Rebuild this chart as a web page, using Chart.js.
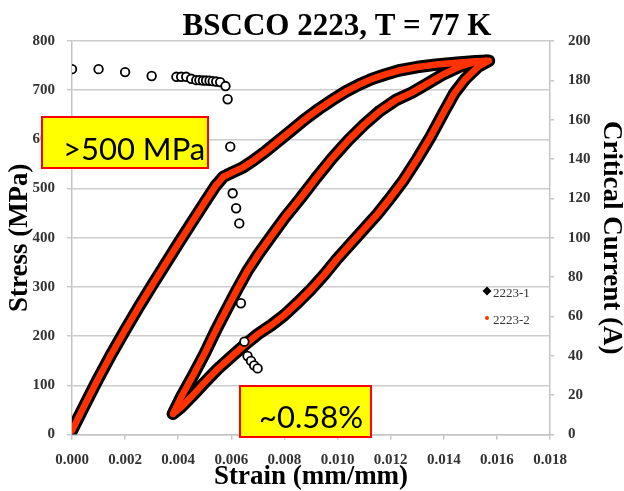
<!DOCTYPE html>
<html lang="en">
<head>
    <meta charset="UTF-8">
    <title>BSCCO 2223, T = 77 K</title>
    <script src="https://cdn.jsdelivr.net/npm/chart.js"></script>
    <style>
        body {
            margin: 0;
            padding: 0;
            background: #fff;
        }
        #wrap {
            width: 624px;
            height: 491px;
        }
    </style>
</head>
<body>
    <div id="wrap">
        <canvas id="stressChart" width="624" height="491"></canvas>
    </div>

    <script>
        const chartTitle = 'BSCCO 2223, T = 77 K';
        const seriesNames = ['2223-1', '2223-2'];
        const xTitle = 'Strain (mm/mm)';
        const yTitle = 'Stress (MPa)';
        const y1Title = 'Critical Current (A)';
        const notes = ['>500 MPa', '~0.58%'];

        // first loading up to the top of the cycle
        const loadStrain = [0.0000, 0.0005, 0.0010, 0.0015, 0.0020, 0.0025, 0.0030, 0.0035, 0.0040, 0.0045,
            0.0050, 0.0054, 0.0057, 0.0060, 0.0064, 0.0068, 0.0073, 0.0078, 0.0083, 0.0088, 0.0093, 0.0098,
            0.0103, 0.0108, 0.0113, 0.0118, 0.0123, 0.0130, 0.0137, 0.0145, 0.0152, 0.0157];
        const loadStress = [8, 62, 115, 165, 212, 258, 302, 345, 388, 430,
            472, 505, 524, 532, 542, 556, 576, 598, 620, 642, 662, 680,
            697, 711, 723, 732, 740, 747, 752, 756, 759, 760];

        // unloading back down
        const unloadStrain = [0.0157, 0.0153, 0.0148, 0.0144, 0.0140, 0.0135, 0.0130, 0.0125, 0.0120, 0.0115,
            0.0110, 0.0105, 0.0100, 0.0095, 0.0090, 0.0085, 0.0080, 0.0075, 0.0070, 0.0065, 0.0060, 0.0055,
            0.0050, 0.0045, 0.0041, 0.0038];
        const unloadStress = [760, 748, 722, 694, 655, 605, 560, 518, 482, 448,
            418, 388, 358, 325, 295, 268, 243, 222, 204, 182, 158, 134,
            106, 77, 55, 42];

        // reloading
        const reloadStrain = [0.0038, 0.0041, 0.0046, 0.0050, 0.0054, 0.0058, 0.0062, 0.0066, 0.0070, 0.0075,
            0.0080, 0.0086, 0.0092, 0.0098, 0.0104, 0.0110, 0.0116, 0.0122, 0.0128, 0.0134, 0.0140, 0.0146,
            0.0151, 0.0156];
        const reloadStress = [42, 75, 124, 165, 210, 252, 293, 332, 365, 403,
            440, 480, 522, 562, 598, 630, 658, 680, 695, 714, 733, 748,
            756, 760];

        // critical current vs strain
        const icStrain = [0, 0.0010, 0.0020, 0.0030, 0.00393, 0.00411, 0.0043, 0.00449, 0.00468, 0.0048,
            0.00493, 0.00505, 0.00518, 0.0053, 0.00543, 0.00558, 0.00578, 0.00586, 0.00596, 0.00605,
            0.00618, 0.0063, 0.00636, 0.00649, 0.00661, 0.00674, 0.00686, 0.00699];
        const icCurrent = [185.7, 185.7, 184.2, 182.2, 181.8, 181.8, 181.8, 180.8, 180.1, 180.1,
            179.9, 179.9, 179.8, 179.6, 179.4, 179.1, 177.1, 170.4, 146.3, 122.6,
            115.0, 107.3, 66.7, 47.2, 39.9, 37.4, 35.1, 33.6];

        const serif = '"Liberation Serif", "Times New Roman", serif';
        const red = '#ff3200';

        function toPoints(xs, ys) {
            return xs.map((x, i) => ({ x: x, y: ys[i] }));
        }

        const cycle = toPoints(loadStrain, loadStress)
            .concat(toPoints(unloadStrain, unloadStress).slice(1))
            .concat(toPoints(reloadStrain, reloadStress).slice(1));

        // title, legend and the two yellow notes
        const overlay = {
            id: 'overlay',
            afterDraw(chart) {
                const ctx = chart.ctx;
                ctx.save();

                ctx.fillStyle = '#000';
                ctx.font = 'bold 31px ' + serif;
                ctx.textAlign = 'center';
                ctx.textBaseline = 'alphabetic';
                ctx.fillText(chartTitle, 337, 35);

                // legend
                ctx.fillStyle = '#000';
                ctx.beginPath();
                ctx.moveTo(487, 286.5);
                ctx.lineTo(491.5, 291);
                ctx.lineTo(487, 295.5);
                ctx.lineTo(482.5, 291);
                ctx.closePath();
                ctx.fill();
                ctx.fillStyle = red;
                ctx.beginPath();
                ctx.arc(487, 318, 2, 0, Math.PI * 2);
                ctx.fill();
                ctx.fillStyle = '#333';
                ctx.font = '13px ' + serif;
                ctx.textAlign = 'left';
                ctx.textBaseline = 'middle';
                ctx.fillText(seriesNames[0], 493, 294);
                ctx.fillText(seriesNames[1], 493, 321);

                drawNote(ctx, notes[0], 42, 117, 166, 51, 63, 160);
                drawNote(ctx, notes[1], 240, 386, 131, 51, 259, 428);
                ctx.restore();
            }
        };

        function drawNote(ctx, text, x, y, w, h, tx, ty) {
            ctx.fillStyle = '#ffff00';
            ctx.fillRect(x, y, w, h);
            ctx.strokeStyle = '#ff0000';
            ctx.lineWidth = 2;
            ctx.strokeRect(x, y, w, h);
            ctx.fillStyle = '#000';
            ctx.font = '31px Lato, "Open Sans", sans-serif';
            ctx.textAlign = 'left';
            ctx.textBaseline = 'alphabetic';
            ctx.fillText(text, tx, ty);
        }

        const tickFont = { family: serif, size: 15, weight: 'bold' };
        const titleFont = { family: serif, size: 27, weight: 'bold', lineHeight: 1 };

        new Chart(document.getElementById('stressChart'), {
            type: 'scatter',
            data: {
                datasets: [
                    {
                        label: 'Ic',
                        data: toPoints(icStrain, icCurrent),
                        yAxisID: 'y1',
                        showLine: false,
                        pointStyle: 'circle',
                        pointRadius: 4.3,
                        pointBorderWidth: 1.8,
                        pointBorderColor: '#000',
                        pointBackgroundColor: '#fff',
                        order: 0
                    },
                    {
                        label: seriesNames[1],
                        data: cycle,
                        yAxisID: 'y',
                        showLine: true,
                        borderColor: red,
                        borderWidth: 6.5,
                        borderCapStyle: 'round',
                        borderJoinStyle: 'round',
                        pointRadius: 0,
                        order: 1
                    },
                    {
                        label: seriesNames[0],
                        data: cycle,
                        yAxisID: 'y',
                        showLine: true,
                        borderColor: '#000',
                        borderWidth: 12.5,
                        borderCapStyle: 'round',
                        borderJoinStyle: 'round',
                        pointRadius: 0,
                        order: 2
                    }
                ]
            },
            options: {
                responsive: false,
                animation: false,
                devicePixelRatio: 1,
                layout: { padding: { top: 41, left: 0, right: 0, bottom: 0 } },
                plugins: {
                    legend: { display: false },
                    title: { display: false },
                    tooltip: { enabled: false }
                },
                scales: {
                    x: {
                        type: 'linear',
                        min: 0,
                        max: 0.018,
                        afterFit: (s) => { s.height = 56.5; },
                        ticks: {
                            stepSize: 0.002,
                            font: tickFont,
                            color: '#333',
                            padding: 12,
                            maxRotation: 0,
                            callback: (v) => v.toFixed(3)
                        },
                        grid: { drawOnChartArea: false, drawTicks: true, tickLength: 5, color: '#c4c4c4', lineWidth: 1.5 },
                        border: { color: '#c4c4c4', width: 1.5 },
                        title: { display: true, text: xTitle, font: titleFont, color: '#000', padding: { top: 0, bottom: 0 } }
                    },
                    y: {
                        position: 'left',
                        min: 0,
                        max: 800,
                        afterFit: (s) => { s.width = 72; },
                        ticks: { stepSize: 100, font: tickFont, color: '#333', padding: 12 },
                        grid: { color: '#cccccc', lineWidth: 1.5, tickLength: 5 },
                        border: { color: '#c4c4c4', width: 1.5 },
                        title: { display: true, text: yTitle, font: titleFont, color: '#000', padding: { top: 7, bottom: 0 } }
                    },
                    y1: {
                        position: 'right',
                        min: 0,
                        max: 200,
                        afterFit: (s) => { s.width = 74; },
                        ticks: { stepSize: 20, font: tickFont, color: '#333', padding: 14 },
                        grid: { drawOnChartArea: false, tickLength: 4, color: '#c4c4c4', lineWidth: 1.5 },
                        border: { color: '#c4c4c4', width: 1.5 },
                        title: { display: true, text: y1Title, font: titleFont, color: '#000', padding: { top: 0, bottom: 0 } }
                    }
                }
            },
            plugins: [overlay]
        });
    </script>
</body>
</html>
